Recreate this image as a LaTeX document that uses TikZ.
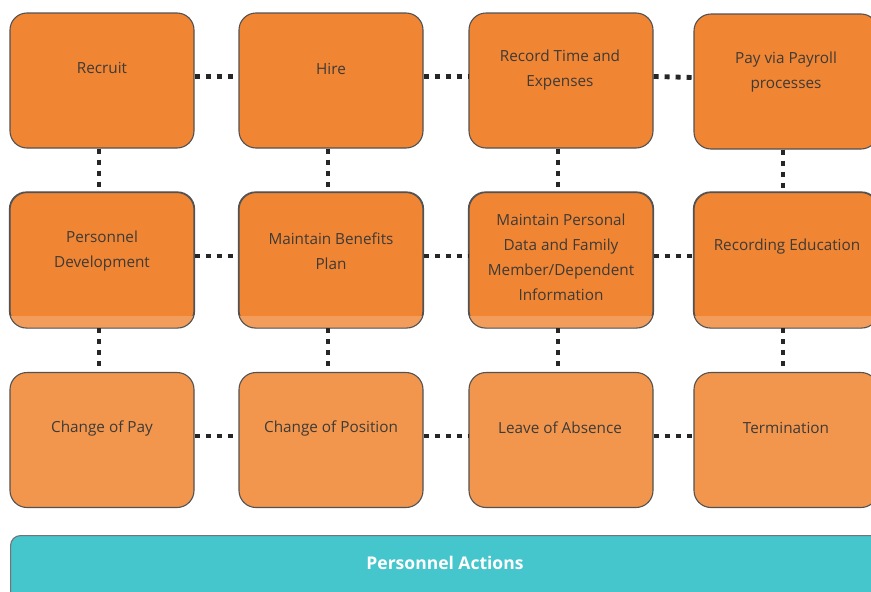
\documentclass[tikz,border=0pt]{standalone}
\usepackage{fontspec}
\setmainfont{Open Sans}
\begin{document}
\begin{tikzpicture}[x=1pt,y=-1pt,
  card/.style={draw=black!68,line width=1.1pt,rounded corners=17pt,
    minimum width=184pt,minimum height=135pt,inner sep=0pt},
  dark/.style={card,fill=orangeA},
  pale/.style={card,fill=orangeB},
  caption/.style={text=txt,font=\fontsize{15.3}{25}\selectfont,align=center,inner sep=0pt},
  dotline/.style={draw=black!85,line width=4.8pt,dash pattern=on 5pt off 6pt}]
\definecolor{orangeA}{HTML}{F08534}
\definecolor{orangeB}{HTML}{F2964E}
\definecolor{orangeC}{HTML}{F39D5C}
\definecolor{txt}{HTML}{3E3A36}
\definecolor{teal}{HTML}{45C5CC}
\useasboundingbox (0,0) rectangle (871,592);

% bottom band
\node[draw=black!55,line width=1.1pt,fill=teal,rounded corners=10pt,
  minimum width=900pt,minimum height=80pt,anchor=north west,inner sep=0pt] (band) at (10,535) {};
\node[text=white,font=\fontsize{17.5}{20}\selectfont\bfseries,inner sep=0pt] (bandtxt) at (445,563) {Personnel Actions};

% row 1
\node[dark] (recruit) at (102,80.5) {};
\node[dark] (hire)    at (331,80.5) {};
\node[dark] (record)  at (561,80.5) {};
\node[dark] (pay)     at (786,81.5) {};
% row 2
\node[dark] (devel)   at (102,260) {};
\node[dark] (benef)   at (331,260) {};
\node[dark] (persdata) at (561,260) {};
\node[dark] (educ)    at (786,260) {};
% lighter lower strip of row 2 cards
\foreach \b in {devel,benef,persdata,educ}{
  \begin{scope}
    \clip[rounded corners=17pt] (\b.south west) rectangle (\b.north east);
    \fill[orangeC] ([yshift=12pt]\b.south west) rectangle (\b.south east);
  \end{scope}
  \draw[black!68,line width=1.1pt,rounded corners=17pt] (\b.south west) rectangle (\b.north east);
}
% row 3
\node[pale] (pay3)    at (102,440) {};
\node[pale] (posit)   at (331,440) {};
\node[pale] (leave)   at (561,440) {};
\node[pale] (term)    at (786,440) {};

% captions
\node[caption] (t1) at (102,68) {Recruit};
\node[caption] (t2) at (331,69) {Hire};
\node[caption] (t3) at (560,70) {Record Time and\\Expenses};
\node[caption] (t4) at (786,72) {Pay via Payroll\\processes};
\node[caption] (t5) at (102,251) {Personnel\\Development};
\node[caption] (t6) at (331,251) {Maintain Benefits\\Plan};
\node[caption] (t7) at (561,257.5) {Maintain Personal\\Data and Family\\Member/Dependent\\Information};
\node[caption] (t8) at (787,247) {Recording Education};
\node[caption] (t9) at (102,428) {Change of Pay};
\node[caption] (t10) at (331,428) {Change of Position};
\node[caption] (t11) at (560,428) {Leave of Absence};
\node[caption] (t12) at (786,428) {Termination};

% horizontal links
\foreach \a/\b in {recruit/hire,hire/record,record/pay,
                   devel/benef,benef/persdata,persdata/educ,
                   pay3/posit,posit/leave,leave/term}{
  \draw[dotline] ([yshift=4pt]\a.east) -- ([yshift=4pt]\b.west);
}
% vertical links
\foreach \a/\b in {recruit/devel,hire/benef,record/persdata,pay/educ,
                   devel/pay3,benef/posit,persdata/leave,educ/term}{
  \draw[dotline] ([xshift=-3pt]\a.south) -- ([xshift=-3pt]\b.north);
}
\end{tikzpicture}
\end{document}
